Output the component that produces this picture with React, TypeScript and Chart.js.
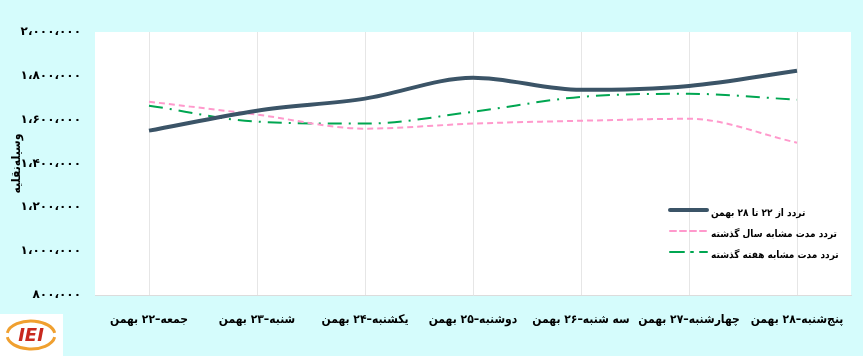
import React, { useEffect, useRef } from "react";
import { Chart, registerables } from "chart.js";

Chart.register(...registerables);

const categories = [
  "جمعه–۲۲ بهمن",
  "شنبه–۲۳ بهمن",
  "یکشنبه–۲۴ بهمن",
  "دوشنبه–۲۵ بهمن",
  "سه شنبه–۲۶ بهمن",
  "چهارشنبه–۲۷ بهمن",
  "پنج‌شنبه–۲۸ بهمن",
];

const currentWeek = [1550000, 1641000, 1696000, 1791000, 1736000, 1754000, 1823000];
const lastYear = [1682000, 1623000, 1559000, 1582000, 1595000, 1604000, 1495000];
const lastWeek = [1664000, 1591000, 1582000, 1636000, 1704000, 1718000, 1691000];

const seriesNames = [
  "تردد از ۲۲ تا ۲۸ بهمن",
  "تردد مدت مشابه سال گذشته",
  "تردد مدت مشابه هفته گذشته",
];

const yTicks = { min: 800000, max: 2000000, step: 200000 };
const axisTitle = "وسیله‌نقلیه";

const FONT = "'DejaVu Sans Condensed', 'DejaVu Sans', sans-serif";

function toPersian(n: number): string {
  const digits = "۰۱۲۳۴۵۶۷۸۹";
  const s = Math.round(n).toString().replace(/\B(?=(\d{3})+(?!\d))/g, ",");
  return s.replace(/\d/g, (d) => digits[+d]).replace(/,/g, "،");
}

const legendPlugin = {
  id: "insideLegend",
  afterDraw(chart: any) {
    const ctx = chart.ctx;
    const rows = [210, 231, 252];
    ctx.save();
    chart.data.datasets.forEach((ds: any, i: number) => {
      const y = rows[i];
      ctx.beginPath();
      ctx.strokeStyle = ds.borderColor;
      ctx.lineWidth = ds.borderWidth;
      ctx.lineCap = "round";
      ctx.setLineDash(ds.borderDash || []);
      ctx.moveTo(670, y);
      ctx.lineTo(707, y);
      ctx.stroke();
      ctx.setLineDash([]);
      ctx.fillStyle = "#000";
      ctx.font = `bold 10px ${FONT}`;
      ctx.direction = "rtl";
      ctx.textAlign = "right";
      ctx.textBaseline = "middle";
      const w = ctx.measureText(ds.label).width;
      ctx.fillText(ds.label, 711 + w, y + 3);
    });
    ctx.restore();
  },
};

const titlePlugin = {
  id: "yTitle",
  afterDraw(chart: any) {
    const ctx = chart.ctx;
    const area = chart.chartArea;
    ctx.save();
    ctx.translate(17, (area.top + area.bottom) / 2);
    ctx.rotate(-Math.PI / 2);
    ctx.fillStyle = "#000";
    ctx.font = `bold 12px ${FONT}`;
    ctx.direction = "rtl";
    ctx.textAlign = "center";
    ctx.textBaseline = "middle";
    ctx.fillText(axisTitle, 0, 0);
    ctx.restore();
  },
};

const logoPlugin = {
  id: "logo",
  afterDraw(chart: any) {
    const ctx = chart.ctx;
    ctx.save();
    ctx.fillStyle = "#ffffff";
    ctx.fillRect(0, 314, 63, 42);
    ctx.strokeStyle = "#f0a030";
    ctx.lineWidth = 3;
    ctx.beginPath();
    ctx.ellipse(31, 335, 24, 14, 0, Math.PI * 1.05, Math.PI * 1.95);
    ctx.stroke();
    ctx.beginPath();
    ctx.ellipse(31, 335, 24, 14, 0, Math.PI * 0.05, Math.PI * 0.95);
    ctx.stroke();
    ctx.fillStyle = "#c8281e";
    ctx.font = `italic bold 18px 'DejaVu Sans', sans-serif`;
    ctx.textAlign = "center";
    ctx.textBaseline = "middle";
    ctx.direction = "ltr";
    ctx.fillText("IEI", 31, 336);
    ctx.restore();
  },
};

const bgPlugin = {
  id: "bg",
  beforeDraw(chart: any) {
    const { ctx, chartArea } = chart;
    ctx.save();
    ctx.fillStyle = "#d5fcfc";
    ctx.fillRect(0, 0, chart.width, chart.height);
    ctx.fillStyle = "#ffffff";
    ctx.fillRect(chartArea.left, chartArea.top, chartArea.right - chartArea.left, chartArea.bottom - chartArea.top);
    ctx.restore();
  },
};

export default function App() {
  const ref = useRef<HTMLCanvasElement>(null);
  useEffect(() => {
    document.body.style.margin = "0";
    const chart = new Chart(ref.current!, {
      type: "line",
      data: {
        labels: categories,
        datasets: [
          {
            label: seriesNames[0],
            data: currentWeek,
            borderColor: "#3b5467",
            borderWidth: 4,
            pointRadius: 0,
            cubicInterpolationMode: "monotone",
            fill: false,
          },
          {
            label: seriesNames[1],
            data: lastYear,
            borderColor: "#ff99cc",
            borderWidth: 2,
            borderDash: [6, 4],
            pointRadius: 0,
            cubicInterpolationMode: "monotone",
            fill: false,
          },
          {
            label: seriesNames[2],
            data: lastWeek,
            borderColor: "#00a651",
            borderWidth: 2,
            borderDash: [14, 7, 2, 7],
            pointRadius: 0,
            cubicInterpolationMode: "monotone",
            fill: false,
          },
        ],
      },
      options: {
        animation: false,
        responsive: false,
        layout: { padding: { left: 0, right: 12, top: 32, bottom: 0 } },
        plugins: { legend: { display: false }, tooltip: { enabled: false } },
        scales: {
          x: {
            offset: true,
            grid: { offset: false, color: "#e6e6e6", lineWidth: 1, drawTicks: false },
            border: { display: true, color: "#dcdcdc" },
            ticks: {
              color: "#000",
              font: { family: FONT, size: 12, weight: "bold" },
              padding: 18,
              maxRotation: 0,
              autoSkip: false,
            },
            afterFit(scale: any) {
              scale.height = 61;
            },
          },
          y: {
            min: yTicks.min,
            max: yTicks.max,
            grid: { display: false, drawTicks: false },
            border: { display: false },
            ticks: {
              stepSize: yTicks.step,
              color: "#000",
              font: { family: "'DejaVu Sans', sans-serif", size: 12, weight: "bold" },
              padding: 14,
              callback: (v: any) => toPersian(Number(v)),
            },
            afterFit(scale: any) {
              scale.width = 95;
            },
          },
        },
      },
      plugins: [bgPlugin, legendPlugin, titlePlugin, logoPlugin],
    });
    return () => chart.destroy();
  }, []);
  return <canvas ref={ref} width={863} height={356} style={{ display: "block" }} />;
}
